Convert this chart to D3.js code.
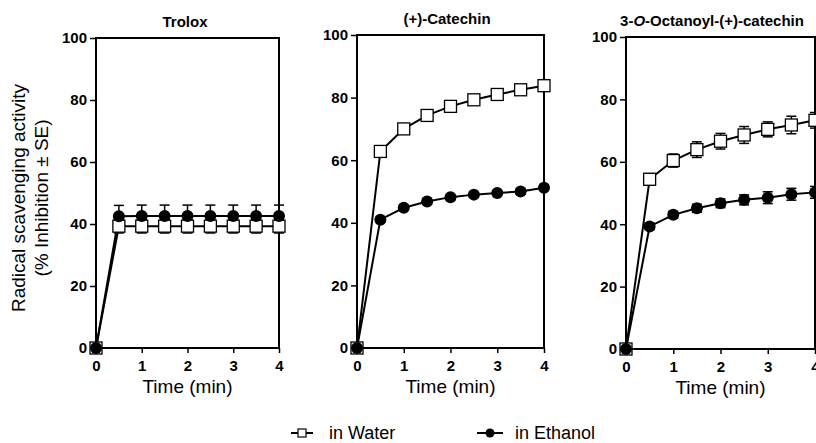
<!DOCTYPE html>
<html>
<head>
<meta charset="utf-8">
<script src="https://cdn.jsdelivr.net/npm/d3@7"></script>
<style>
    body { margin: 0; background: #fff; }
    svg text { font-family: "Liberation Sans", Arial, Helvetica, sans-serif; fill: #000; }
    .tick text { font-weight: bold; font-size: 15px; }
</style>
</head>
<body>
<div class="chart"></div>
<script>

// Sampling times (min)
var times = [0, 0.5, 1, 1.5, 2, 2.5, 3, 3.5, 4];
var xTicks = [0, 1, 2, 3, 4];
var yTicks = [0, 20, 40, 60, 80, 100];

var titles = ["Trolox", "(+)-Catechin", "3-O-Octanoyl-(+)-catechin"];

// % inhibition
var troloxWater = [0, 39.3, 39.3, 39.3, 39.3, 39.3, 39.3, 39.3, 39.3];
var troloxWaterSE = [0, 2.2, 2.2, 2.2, 2.2, 2.2, 2.2, 2.2, 2.2];
var troloxEthanol = [0, 42.5, 42.6, 42.6, 42.6, 42.6, 42.6, 42.6, 42.6];
var troloxEthanolSE = [0, 3.5, 3.5, 3.5, 3.5, 3.5, 3.5, 3.5, 3.5];

var catechinWater = [0, 62.8, 70.0, 74.3, 77.2, 79.3, 81.0, 82.5, 83.8];
var catechinWaterSE = [0, 0.8, 0.8, 0.8, 0.8, 0.8, 0.8, 0.8, 0.8];
var catechinEthanol = [0, 41.0, 44.8, 46.8, 48.2, 49.0, 49.5, 50.0, 51.2];
var catechinEthanolSE = [0, 0.8, 0.8, 0.8, 0.8, 0.8, 0.8, 0.8, 0.8];

var octanoylWater = [0, 54.4, 60.4, 63.9, 66.6, 68.6, 70.4, 71.8, 73.3];
var octanoylWaterSE = [0, 1.8, 2.1, 2.5, 2.5, 2.7, 2.4, 2.8, 2.5];
var octanoylEthanol = [0, 39.3, 43.0, 45.1, 46.7, 47.8, 48.5, 49.6, 50.2];
var octanoylEthanolSE = [0, 1.0, 1.1, 1.3, 1.4, 1.6, 1.9, 1.9, 1.9];

var width = 816, height = 443;

// Panel frames in page pixels
var panels = [
    { left: 96, right: 279, top: 38, bottom: 348, titleX: 185 },
    { left: 357, right: 544, top: 35, bottom: 348, titleX: 447 },
    { left: 626, right: 815, top: 37, bottom: 349, titleX: 712 }
];

var series = [
    [
        { values: troloxWater, se: troloxWaterSE, symbol: "square" },
        { values: troloxEthanol, se: troloxEthanolSE, symbol: "circle" }
    ],
    [
        { values: catechinWater, se: catechinWaterSE, symbol: "square" },
        { values: catechinEthanol, se: catechinEthanolSE, symbol: "circle" }
    ],
    [
        { values: octanoylWater, se: octanoylWaterSE, symbol: "square" },
        { values: octanoylEthanol, se: octanoylEthanolSE, symbol: "circle" }
    ]
];

var svg = d3.select(".chart")
    .append("svg")
        .attr("width", width)
        .attr("height", height);

panels.forEach(function(p, i) {

    var x = d3.scaleLinear().domain([0, 4]).range([p.left, p.right]);
    var y = d3.scaleLinear().domain([0, 100]).range([p.bottom, p.top]);

    var g = svg.append("g");

    // Axes
    g.append("g")
        .attr("transform", "translate(" + p.left + ",0)")
        .call(d3.axisLeft(y).tickValues(yTicks).tickFormat(d3.format("d")).tickSize(6).tickPadding(3))
        .call(function(a) { a.select(".domain").remove(); })
        .selectAll("line").attr("stroke-width", 1.5);

    g.append("g")
        .attr("transform", "translate(0," + p.bottom + ")")
        .call(d3.axisBottom(x).tickValues(xTicks).tickFormat(d3.format("d")).tickSize(5).tickPadding(7))
        .call(function(a) { a.select(".domain").remove(); })
        .selectAll("line").attr("stroke-width", 1.5);

    // Frame
    g.append("rect")
        .attr("x", p.left)
        .attr("y", p.top)
        .attr("width", p.right - p.left)
        .attr("height", p.bottom - p.top)
        .attr("fill", "none")
        .attr("stroke", "#000")
        .attr("stroke-width", 2);

    // Title
    var title = g.append("text")
        .attr("x", p.titleX)
        .attr("y", p.top - 11)
        .attr("text-anchor", "middle")
        .style("font-weight", "bold")
        .style("font-size", "15px");
    if (i == 2) {
        title.append("tspan").text("3-");
        title.append("tspan").style("font-style", "italic").text("O");
        title.append("tspan").text("-Octanoyl-(+)-catechin");
    } else {
        title.text(titles[i]);
    }

    // X label
    g.append("text")
        .attr("x", (p.left + p.right) / 2)
        .attr("y", p.bottom + 45)
        .attr("text-anchor", "middle")
        .style("font-size", "19px")
        .style("font-weight", "normal")
        .text("Time (min)");

    var line = d3.line()
        .x(function(d, j) { return x(times[j]); })
        .y(function(d) { return y(d); });

    series[i].forEach(function(s) {
        g.append("path")
            .attr("d", line(s.values))
            .attr("fill", "none")
            .attr("stroke", "#000")
            .attr("stroke-width", 2);

        // Error bars (+/- SE)
        s.values.forEach(function(v, j) {
            if (!s.se[j]) return;
            var cx = x(times[j]);
            [v - s.se[j], v + s.se[j]].forEach(function(e) {
                g.append("line")
                    .attr("x1", cx).attr("x2", cx)
                    .attr("y1", y(v)).attr("y2", y(e))
                    .attr("stroke", "#000").attr("stroke-width", 1.5);
                g.append("line")
                    .attr("x1", cx - 5).attr("x2", cx + 5)
                    .attr("y1", y(e)).attr("y2", y(e))
                    .attr("stroke", "#000").attr("stroke-width", 1.5);
            });
        });
    });

    // Markers on top
    series[i].forEach(function(s) {
        s.values.forEach(function(v, j) {
            if (s.symbol == "square") {
                g.append("rect")
                    .attr("x", x(times[j]) - 6)
                    .attr("y", y(v) - 6)
                    .attr("width", 12)
                    .attr("height", 12)
                    .attr("fill", "#fff")
                    .attr("stroke", "#000")
                    .attr("stroke-width", 1.3);
            } else {
                g.append("circle")
                    .attr("cx", x(times[j]))
                    .attr("cy", y(v))
                    .attr("r", 6)
                    .attr("fill", "#000");
            }
        });
    });
});

// Y axis label
var ylab = svg.append("text")
    .attr("transform", "translate(25,198) rotate(-90)")
    .attr("text-anchor", "middle")
    .style("font-size", "19px");
ylab.append("tspan").attr("x", 0).attr("dy", 0).text("Radical scavenging activity");
ylab.append("tspan").attr("x", 0).attr("dy", 23).text("(% Inhibition \u00b1 SE)");

// Legend
var legend = svg.append("g");
var legendY = 433;

legend.append("line")
    .attr("x1", 291).attr("x2", 313)
    .attr("y1", legendY).attr("y2", legendY)
    .attr("stroke", "#000").attr("stroke-width", 2);
legend.append("rect")
    .attr("x", 298).attr("y", legendY - 4)
    .attr("width", 8).attr("height", 8)
    .attr("fill", "#fff").attr("stroke", "#000").attr("stroke-width", 1.2);
legend.append("text")
    .attr("x", 329).attr("y", legendY + 6)
    .style("font-size", "18px")
    .text("in Water");

legend.append("line")
    .attr("x1", 477).attr("x2", 503)
    .attr("y1", legendY).attr("y2", legendY)
    .attr("stroke", "#000").attr("stroke-width", 2);
legend.append("circle")
    .attr("cx", 490).attr("cy", legendY)
    .attr("r", 4.5)
    .attr("fill", "#000");
legend.append("text")
    .attr("x", 515).attr("y", legendY + 6)
    .style("font-size", "18px")
    .text("in Ethanol");

</script>
</body>
</html>
